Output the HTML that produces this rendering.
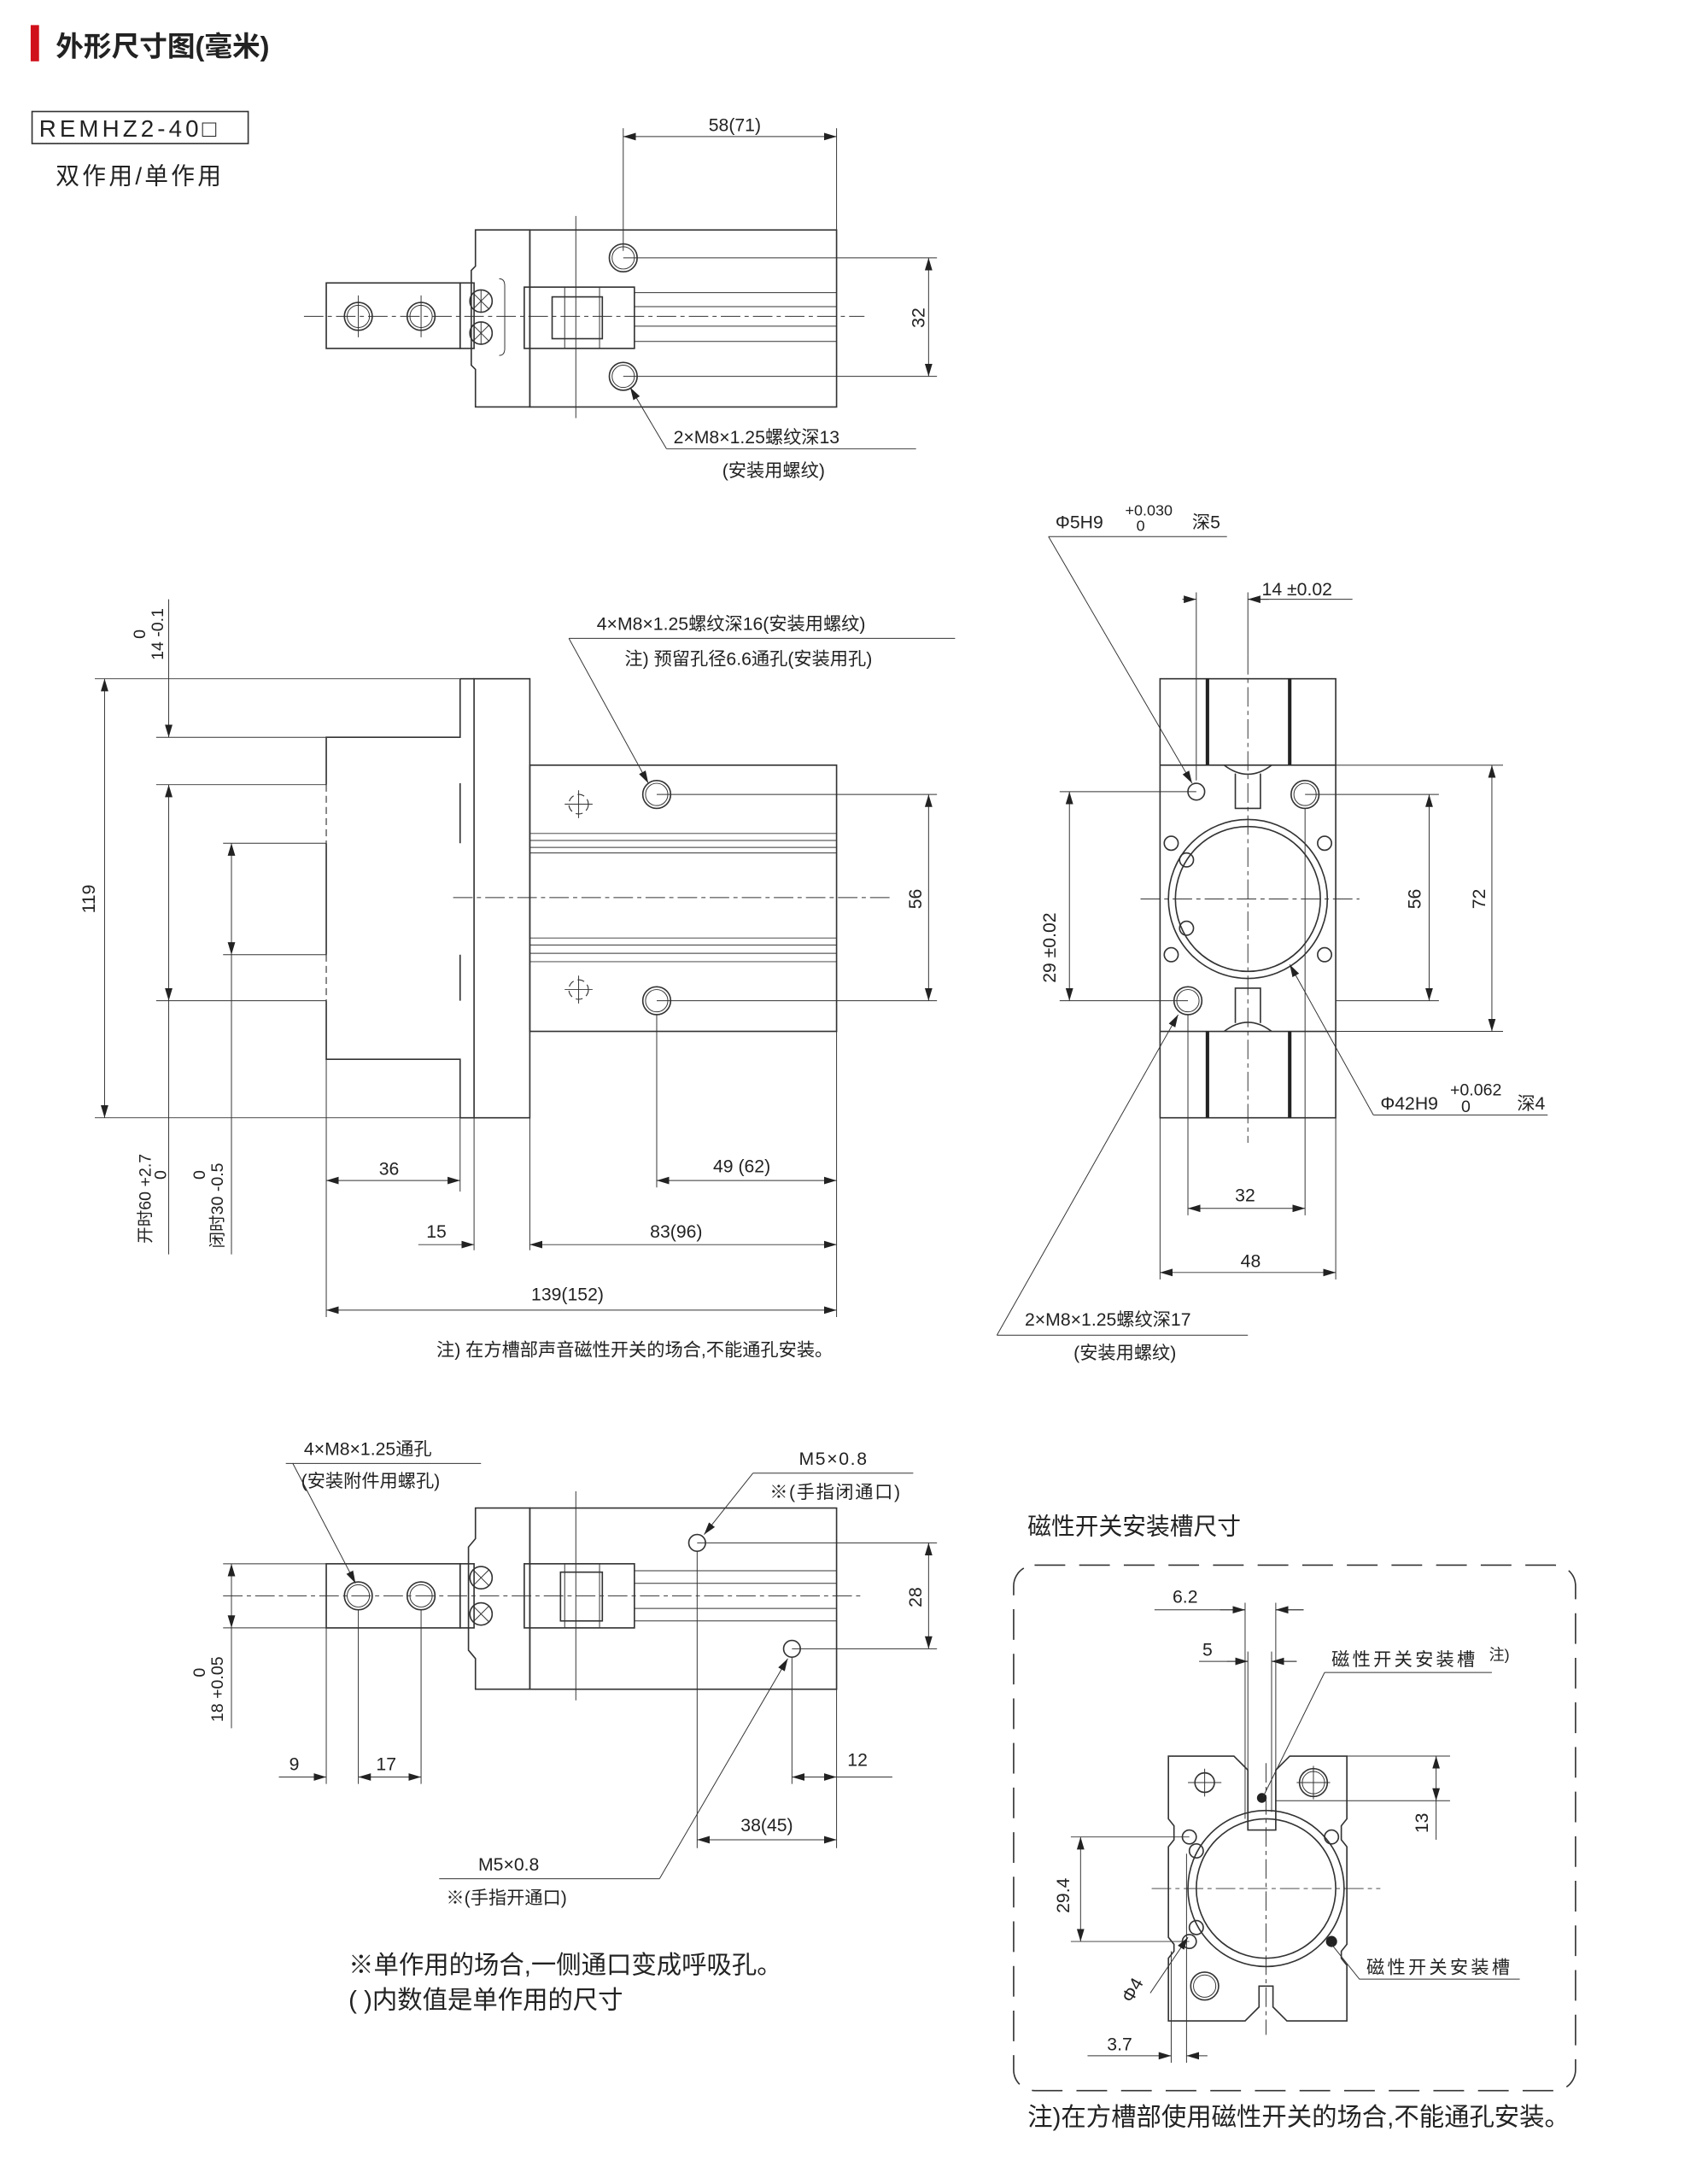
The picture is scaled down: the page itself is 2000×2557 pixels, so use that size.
<!DOCTYPE html>
<html><head><meta charset="utf-8"><style>
html,body{margin:0;padding:0;background:#fff}
svg{display:block}
text{font-family:"Liberation Sans","Noto Sans CJK SC",sans-serif;fill:#222}
.l{stroke:#333;stroke-width:1;fill:none}
.t{stroke:#333;stroke-width:0.6;fill:none}
.c{stroke:#333;stroke-width:0.6;fill:none;stroke-dasharray:14 3 3 3}
.h{stroke:#333;stroke-width:0.7;fill:none;stroke-dasharray:5 3}
.d{stroke:#333;stroke-width:0.6;fill:none;marker-start:url(#a);marker-end:url(#a)}
.d1{stroke:#333;stroke-width:0.6;fill:none;marker-end:url(#a)}
.s{font-size:13px}
</style></head><body>
<svg width="2000" height="2557" viewBox="0 0 1225 1567" preserveAspectRatio="none" xmlns="http://www.w3.org/2000/svg">
<defs><marker id="a" viewBox="0 0 10 10" refX="10" refY="5" markerWidth="9" markerHeight="9" orient="auto-start-reverse" markerUnits="userSpaceOnUse"><path d="M0,2 L10,5 L0,8 z" fill="#222"/></marker></defs>

<!-- header -->
<rect x="22" y="18" width="6" height="26" fill="#d0101a"/>
<text x="40" y="40" font-size="20" font-weight="bold">外形尺寸图(毫米)</text>
<rect x="23" y="80" width="155" height="23" class="l"/>
<text x="28" y="98" font-size="17" letter-spacing="2.5">REMHZ2-40□</text>
<text x="40" y="132" font-size="17" letter-spacing="2">双作用/单作用</text>

<!-- VIEW 1 top -->
<g>
<rect x="234" y="203" width="96" height="47" class="l"/>
<rect x="330" y="203" width="10" height="47" class="l"/>
<circle cx="257" cy="227" r="10" class="l"/><circle cx="257" cy="227" r="8" class="t"/>
<circle cx="302" cy="227" r="10" class="l"/><circle cx="302" cy="227" r="8" class="t"/>
<path d="M257,212V242M302,212V242" class="t"/>
<path d="M341,165H380V292H341V265L338,262V194L341,191Z" class="l"/>
<circle cx="345" cy="216" r="8" class="l"/><circle cx="345" cy="239" r="8" class="l"/>
<path d="M339,210L351,222M339,222L351,210M345,208V224M339,233L351,245M339,245L351,233M345,231V247" class="t"/>
<path d="M358,200Q362,200 362,205V250Q362,255 358,255" class="t"/>
<rect x="380" y="165" width="220" height="127" class="l"/>
<rect x="376" y="206" width="79" height="44" class="l"/>
<rect x="396" y="213" width="36" height="30" class="l"/>
<rect x="405" y="206" width="25" height="44" class="t"/>
<path d="M455,210H600M455,220H600M455,234H600M455,245H600" class="t"/>
<path d="M218,227H620" class="c"/>
<path d="M413,155V300" class="t"/>
<circle cx="447" cy="185" r="10" class="l"/><circle cx="447" cy="185" r="8" class="t"/>
<circle cx="447" cy="270" r="10" class="l"/><circle cx="447" cy="270" r="8" class="t"/>
<path d="M447,92V180M600,92V165M447,185H672M447,270H672" class="t"/>
<path d="M447,98H600" class="d"/>
<text x="527" y="94" class="s" text-anchor="middle">58(71)</text>
<path d="M666,185V270" class="d"/>
<text x="663" y="228" class="s" text-anchor="middle" transform="rotate(-90 663 228)">32</text>
<path d="M478,322L452,278" class="d1"/><path d="M478,322H657" class="t"/>
<text x="483" y="318" class="s">2×M8×1.25螺纹深13</text>
<text x="518" y="342" class="s">(安装用螺纹)</text>
</g>

<!-- VIEW 2 front -->
<g>
<path d="M330,487V529H234V563M234,605V685M234,718V760H330V802" class="l"/>
<path d="M234,563V605M234,685V718" class="h"/>
<path d="M330,562V605M330,685V718" class="l"/>
<rect x="340" y="487" width="40" height="315" class="l"/>
<path d="M330,487H340M330,802H340" class="l"/>
<rect x="380" y="549" width="220" height="191" class="l"/>
<path d="M380,598H600M380,603H600M380,608H600M380,612H600M380,673H600M380,678H600M380,684H600M380,690H600" class="t"/>
<path d="M325,644H640" class="c"/>
<circle cx="471" cy="570" r="10" class="l"/><circle cx="471" cy="570" r="8" class="t"/>
<circle cx="471" cy="718" r="10" class="l"/><circle cx="471" cy="718" r="8" class="t"/>
<circle cx="415" cy="577" r="7" class="h"/><circle cx="415" cy="710" r="7" class="h"/>
<path d="M405,577H425M415,567V587M405,710H425M415,700V720" class="t"/>
<path d="M471,570H672M471,718H672" class="t"/>
<path d="M666,570V718" class="d"/>
<text x="661" y="645" class="s" text-anchor="middle" transform="rotate(-90 661 645)">56</text>
<path d="M68,487H330M68,802H340M112,529H234M112,563H234M160,605H234M160,685H234M112,718H234" class="t"/>
<path d="M75,487V802" class="d"/>
<text x="68" y="645" class="s" text-anchor="middle" transform="rotate(-90 68 645)">119</text>
<path d="M121,430V529" class="d1"/>
<text x="104" y="455" font-size="12" text-anchor="middle" transform="rotate(-90 104 455)">0</text>
<text x="117" y="455" font-size="12" text-anchor="middle" transform="rotate(-90 117 455)">14 -0.1</text>
<path d="M121,563V718" class="d"/><path d="M121,718V900" class="t"/>
<text x="108" y="860" font-size="12" text-anchor="middle" transform="rotate(-90 108 860)">开时60 +2.7</text>
<text x="119" y="843" font-size="12" text-anchor="middle" transform="rotate(-90 119 843)">0</text>
<path d="M166,605V685" class="d"/><path d="M166,685V900" class="t"/>
<text x="160" y="865" font-size="12" text-anchor="middle" transform="rotate(-90 160 865)">闭时30 -0.5</text>
<text x="147" y="843" font-size="12" text-anchor="middle" transform="rotate(-90 147 843)">0</text>
<path d="M234,760V945M330,802V855M340,802V897M380,802V897M471,728V852M600,740V945" class="t"/>
<path d="M234,847H330" class="d"/><text x="279" y="843" class="s" text-anchor="middle">36</text>
<path d="M471,847H600" class="d"/><text x="532" y="841" class="s" text-anchor="middle">49 (62)</text>
<path d="M300,893H340" class="d1"/><path d="M380,893H600" class="d"/>
<text x="313" y="888" class="s" text-anchor="middle">15</text>
<text x="485" y="888" class="s" text-anchor="middle">83(96)</text>
<path d="M234,940H600" class="d"/><text x="407" y="933" class="s" text-anchor="middle">139(152)</text>
<path d="M408,458L465,562" class="d1"/><path d="M408,458H685" class="t"/>
<text x="428" y="452" class="s">4×M8×1.25螺纹深16(安装用螺纹)</text>
<text x="448" y="477" class="s">注) 预留孔径6.6通孔(安装用孔)</text>
<text x="313" y="973" class="s">注) 在方槽部声音磁性开关的场合,不能通孔安装。</text>
</g>

<!-- VIEW 3 side -->
<g>
<rect x="832" y="487" width="126" height="315" class="l"/>
<path d="M832,549H958M832,740H958" class="l"/>
<path d="M866,487V549M925,487V549M866,740V802M925,740V802" stroke="#222" stroke-width="2.5"/>
<circle cx="895" cy="645" r="57" class="l"/><circle cx="895" cy="645" r="52" class="l"/>
<path d="M878,549Q895,562 912,549M886,555V580H904V555M878,740Q895,727 912,740M886,734V709H904V734" class="l"/>
<circle cx="858" cy="568" r="6" class="l"/>
<circle cx="936" cy="570" r="10" class="l"/><circle cx="936" cy="570" r="8" class="t"/>
<circle cx="852" cy="718" r="10" class="l"/><circle cx="852" cy="718" r="8" class="t"/>
<circle cx="851" cy="617" r="5" class="l"/><circle cx="851" cy="666" r="5" class="l"/>
<circle cx="840" cy="605" r="5" class="l"/><circle cx="950" cy="605" r="5" class="l"/>
<circle cx="840" cy="685" r="5" class="l"/><circle cx="950" cy="685" r="5" class="l"/>
<path d="M818,645H975M895,470V820" class="c"/>
<path d="M858,425V560M895,425V470" class="t"/>
<path d="M848,430H858" class="d1"/><path d="M895,430H970" class="t"/><path d="M910,430H895" class="d1"/>
<text x="905" y="427" class="s">14 ±0.02</text>
<path d="M752,385L855,562" class="d1"/><path d="M752,385H880" class="t"/>
<text x="757" y="379" class="s">Φ5H9</text>
<text x="807" y="370" font-size="11">+0.030</text><text x="815" y="381" font-size="11">0</text>
<text x="855" y="379" class="s">深5</text>
<path d="M760,568H858M760,718H852" class="t"/>
<path d="M767,568V718" class="d"/>
<text x="757" y="680" class="s" text-anchor="middle" transform="rotate(-90 757 680)">29 ±0.02</text>
<path d="M936,570H1032M958,718H1032M958,549H1078M958,740H1078" class="t"/>
<path d="M1025,570V718" class="d"/><text x="1019" y="645" class="s" text-anchor="middle" transform="rotate(-90 1019 645)">56</text>
<path d="M1070,549V740" class="d"/><text x="1065" y="645" class="s" text-anchor="middle" transform="rotate(-90 1065 645)">72</text>
<path d="M985,800L925,692" class="d1"/><path d="M985,800H1110" class="t"/>
<text x="990" y="796" class="s">Φ42H9</text>
<text x="1040" y="786" font-size="12">+0.062</text><text x="1048" y="798" font-size="12">0</text>
<text x="1088" y="796" class="s">深4</text>
<path d="M852,728V872M936,580V872M832,802V918M958,802V918" class="t"/>
<path d="M852,867H936" class="d"/><text x="893" y="862" class="s" text-anchor="middle">32</text>
<path d="M832,913H958" class="d"/><text x="897" y="909" class="s" text-anchor="middle">48</text>
<path d="M715,958L845,728" class="d1"/><path d="M715,958H895" class="t"/>
<text x="735" y="951" class="s">2×M8×1.25螺纹深17</text>
<text x="770" y="975" class="s">(安装用螺纹)</text>
</g>

<!-- VIEW 4 bottom -->
<g>
<rect x="234" y="1122" width="96" height="46" class="l"/>
<rect x="330" y="1122" width="10" height="46" class="l"/>
<circle cx="257" cy="1145" r="10" class="l"/><circle cx="257" cy="1145" r="8" class="t"/>
<circle cx="302" cy="1145" r="10" class="l"/><circle cx="302" cy="1145" r="8" class="t"/>
<path d="M341,1082H380V1212H341V1190L336,1184V1110L341,1104Z" class="l"/>
<circle cx="345" cy="1132" r="8" class="l"/><circle cx="345" cy="1158" r="8" class="l"/>
<path d="M339,1126L351,1138M339,1138L351,1126M339,1152L351,1164M339,1164L351,1152" class="t"/>
<rect x="380" y="1082" width="220" height="130" class="l"/>
<rect x="376" y="1122" width="79" height="46" class="l"/>
<rect x="402" y="1128" width="30" height="35" class="l"/>
<rect x="405" y="1122" width="25" height="46" class="t"/>
<path d="M455,1127H600M455,1136H600M455,1154H600M455,1163H600" class="t"/>
<path d="M160,1145H620" class="c"/><path d="M413,1070V1220" class="t"/>
<circle cx="500" cy="1107" r="6" class="l"/><circle cx="568" cy="1183" r="6" class="l"/>
<path d="M500,1107H672M568,1183H672" class="t"/>
<path d="M666,1107V1183" class="d"/><text x="661" y="1146" class="s" text-anchor="middle" transform="rotate(-90 661 1146)">28</text>
<path d="M160,1122H234M160,1168H234" class="t"/>
<path d="M166,1122V1168" class="d"/><path d="M166,1168V1240" class="t"/>
<text x="160" y="1212" font-size="12" text-anchor="middle" transform="rotate(-90 160 1212)">18 +0.05</text>
<text x="147" y="1200" font-size="12" text-anchor="middle" transform="rotate(-90 147 1200)">0</text>
<path d="M234,1168V1280M257,1155V1280M302,1155V1280M568,1189V1280M600,1212V1326M500,1113V1326" class="t"/>
<path d="M200,1275H234" class="d1"/><path d="M257,1275H302" class="d"/>
<text x="211" y="1270" class="s" text-anchor="middle">9</text><text x="277" y="1270" class="s" text-anchor="middle">17</text>
<path d="M568,1275H600" class="d"/><path d="M600,1275H640" class="t"/>
<text x="615" y="1267" class="s" text-anchor="middle">12</text>
<path d="M500,1320H600" class="d"/><text x="550" y="1314" class="s" text-anchor="middle">38(45)</text>
<path d="M210,1050L255,1136" class="d1"/><path d="M205,1050H345" class="t"/>
<text x="218" y="1044" class="s">4×M8×1.25通孔</text>
<text x="216" y="1067" class="s">(安装附件用螺孔)</text>
<path d="M540,1057L505,1101" class="d1"/><path d="M540,1057H655" class="t"/>
<text x="573" y="1051" class="s" letter-spacing="1">M5×0.8</text>
<text x="552" y="1075" class="s" letter-spacing="1">※(手指闭通口)</text>
<path d="M473,1348L565,1190" class="d1"/><path d="M315,1348H473" class="t"/>
<text x="343" y="1342" class="s">M5×0.8</text>
<text x="320" y="1366" class="s">※(手指开通口)</text>
<text x="250" y="1416" font-size="18">※单作用的场合,一侧通口变成呼吸孔。</text>
<text x="250" y="1441" font-size="18">( )内数值是单作用的尺寸</text>
</g>

<!-- VIEW 5 -->
<g>
<text x="737" y="1101" font-size="17">磁性开关安装槽尺寸</text>
<rect x="727" y="1123" width="403" height="377" rx="15" class="l" stroke-dasharray="22 10" stroke-width="0.8"/>
<path d="M838,1260H885L895,1270V1313H915V1270L925,1260H966V1305L962,1310V1320L966,1325V1395L962,1400V1405L966,1410V1450H923L913,1440V1425H903V1440L893,1450H838V1405L842,1400V1395L838,1390V1325L842,1320V1310L838,1305Z" class="l"/>
<circle cx="908" cy="1355" r="56" class="l"/><circle cx="908" cy="1355" r="50" class="l"/>
<circle cx="864" cy="1279" r="7" class="l"/><path d="M852,1279H876M864,1269V1289" class="t"/>
<circle cx="942" cy="1279" r="10" class="l"/><circle cx="942" cy="1279" r="8" class="t"/><path d="M930,1279H954M942,1267V1291" class="t"/>
<circle cx="864" cy="1425" r="10" class="l"/><circle cx="864" cy="1425" r="8" class="t"/>
<circle cx="858" cy="1328" r="5" class="l"/><circle cx="858" cy="1383" r="5" class="l"/>
<circle cx="853" cy="1318" r="5" class="l"/><circle cx="853" cy="1393" r="5" class="l"/>
<circle cx="955" cy="1318" r="5" class="l"/><circle cx="955" cy="1393" r="4" fill="#222"/>
<circle cx="905" cy="1290" r="3.5" fill="#222"/>
<path d="M893,1150V1305M915,1150V1305M895,1185V1300M912,1185V1300" class="t"/>
<path d="M828,1155H893M915,1155H935" class="t"/><path d="M875,1155H893" class="d1"/><path d="M935,1155H915" class="d1"/>
<text x="850" y="1150" class="s" text-anchor="middle">6.2</text>
<path d="M860,1192H895M912,1192H930" class="t"/><path d="M880,1192H895" class="d1"/><path d="M930,1192H912" class="d1"/>
<text x="866" y="1188" class="s" text-anchor="middle">5</text>
<path d="M950,1200L906,1289" class="t"/><path d="M950,1200H1070" class="t"/>
<text x="955" y="1195" class="s" letter-spacing="2">磁性开关安装槽</text><text x="1068" y="1191" font-size="11">注)</text>
<path d="M966,1260H1040M915,1292H1040" class="t"/>
<path d="M1030,1260V1292" class="d"/><path d="M1030,1292V1320" class="t"/>
<text x="1024" y="1308" class="s" text-anchor="middle" transform="rotate(-90 1024 1308)">13</text>
<path d="M768,1318H853M768,1393H853" class="t"/>
<path d="M775,1318V1393" class="d"/>
<text x="767" y="1360" class="s" text-anchor="middle" transform="rotate(-90 767 1360)">29.4</text>
<path d="M826,1355H990" class="c"/><path d="M908,1265V1460" class="c"/>
<path d="M840,1400V1480M851,1330V1480" class="t"/>
<path d="M825,1430L852,1390" class="d1"/>
<text x="816" y="1430" class="s" text-anchor="middle" transform="rotate(-60 816 1430)">Φ4</text>
<path d="M780,1475H840" class="d1"/><path d="M866,1475H851" class="d1"/>
<text x="803" y="1471" class="s" text-anchor="middle">3.7</text>
<path d="M955,1395L975,1420H1090" class="t"/>
<text x="980" y="1416" class="s" letter-spacing="2">磁性开关安装槽</text>
<text x="737" y="1525" font-size="18">注)在方槽部使用磁性开关的场合,不能通孔安装。</text>
</g>
</svg>
</body></html>
